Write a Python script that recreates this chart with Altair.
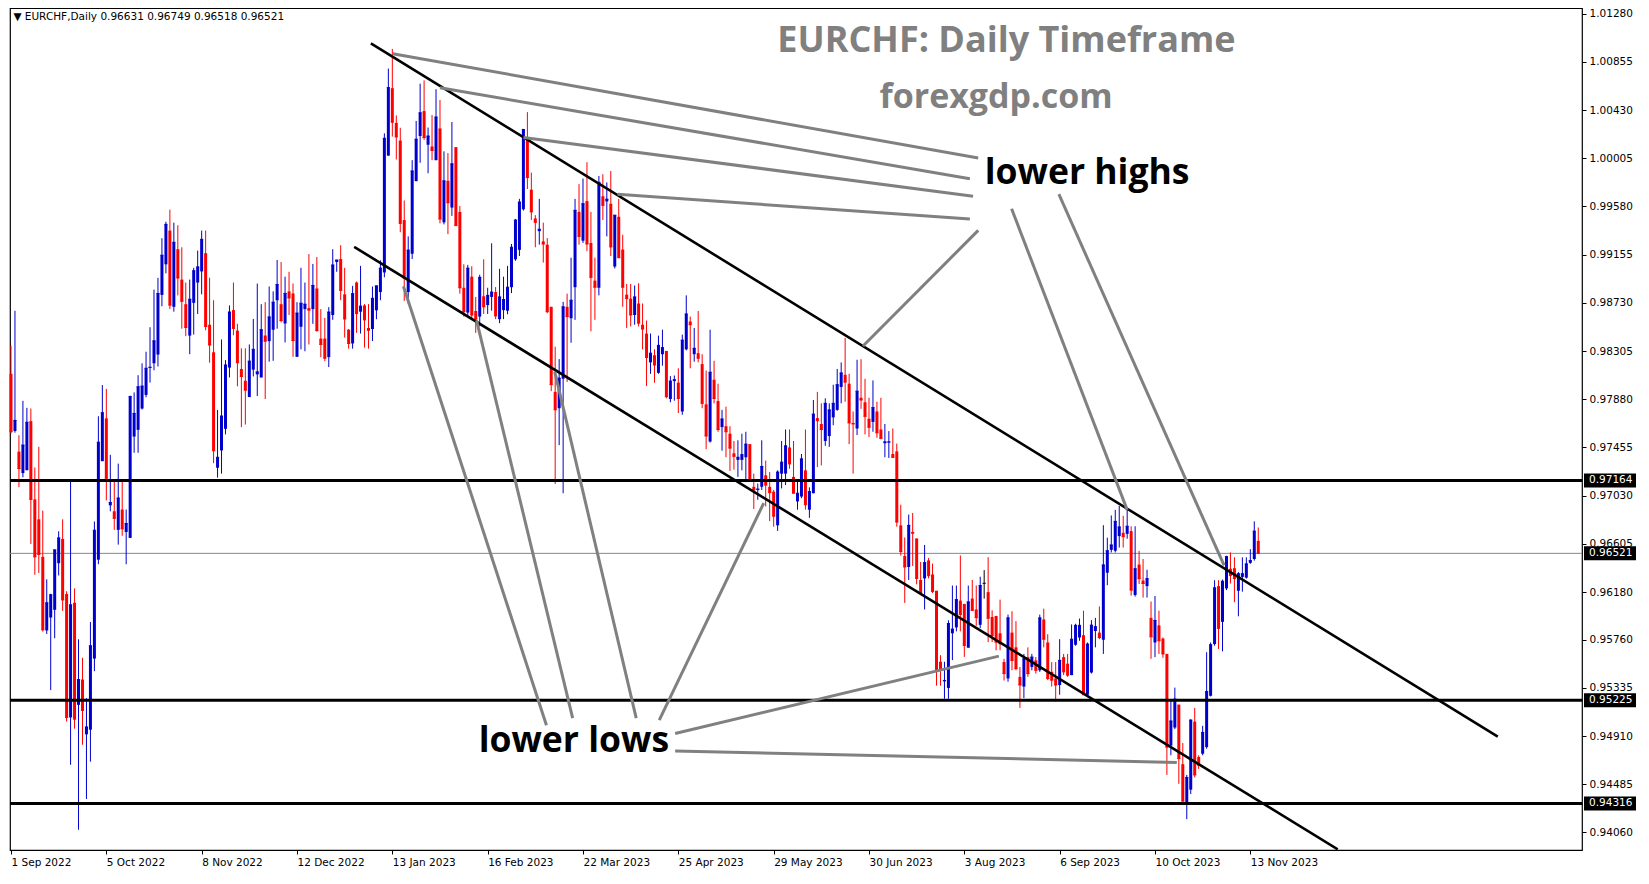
import altair as alt
import pandas as pd

# ---------------- data ----------------
OPEN = [0.98104,0.97600,0.97418,0.97229,0.97254,0.97687,0.96997,0.96821,0.96490,0.95841,
0.95955,0.96023,0.96434,0.96648,0.96162,0.95074,0.96085,0.95185,0.95408,0.94925,
0.94966,0.95593,0.96465,0.97334,0.97711,0.96944,0.96892,0.96728,0.96907,0.96709,
0.96657,0.97551,0.97610,0.97798,0.97918,0.98156,0.98197,0.98274,0.98800,0.99070,
0.99367,0.98695,0.99203,0.98935,0.98718,0.98441,0.98730,0.98909,0.99007,0.99168,
0.98537,0.98294,0.97276,0.97429,0.97619,0.98159,0.98666,0.98485,0.98147,0.98043,
0.97899,0.98141,0.98099,0.98072,0.98441,0.98392,0.98493,0.98753,0.98718,0.98548,
0.98831,0.98813,0.98254,0.98519,0.98675,0.98684,0.98675,0.98857,0.98415,0.98415,
0.98251,0.98623,0.99090,0.99116,0.98805,0.98493,0.98372,0.98909,0.98652,0.98707,
0.98508,0.98499,0.98664,0.98825,0.98998,1.00028,1.00623,1.00317,1.00161,0.99460,
0.98825,0.99163,0.99803,1.00201,1.00421,1.00124,1.00109,0.99988,1.00268,0.99440,
0.99806,0.99570,1.00103,0.99532,0.98863,0.98644,0.98961,0.98658,0.98609,0.98788,
0.98710,0.98782,0.98825,0.98586,0.98666,0.98661,0.98868,0.99114,0.99197,0.99555,
1.00181,0.99728,0.99474,0.99362,0.99272,0.99243,0.98695,0.97945,0.97801,0.98061,
0.98695,0.98594,0.98868,0.99532,0.99278,0.99627,0.99258,0.98926,0.98863,0.99670,
0.99624,0.99604,0.99050,0.99489,0.99200,0.98802,0.98767,0.98623,0.98724,0.98537,
0.98459,0.98205,0.98268,0.98113,0.98277,0.98306,0.97882,0.98040,0.98026,0.97772,
0.98320,0.98565,0.98277,0.98286,0.98190,0.97835,0.97507,0.98052,0.97864,0.97634,
0.97642,0.97576,0.97403,0.97345,0.97345,0.97368,0.97484,0.97108,0.97080,0.97108,
0.97209,0.97108,0.97065,0.96768,0.97224,0.97224,0.97455,0.97195,0.96979,0.97022,
0.97253,0.96906,0.97051,0.97714,0.97662,0.97512,0.97555,0.97720,0.97786,0.97988,
0.98095,0.98017,0.97671,0.97622,0.97893,0.97853,0.97708,0.97680,0.97772,0.97613,
0.97492,0.97498,0.97397,0.97420,0.96768,0.96497,0.96401,0.96710,0.96652,0.96286,
0.96300,0.96459,0.96335,0.96191,0.95565,0.95392,0.95334,0.95816,0.95868,0.96104,
0.96075,0.95689,0.96122,0.96026,0.95891,0.96257,0.96179,0.95960,0.95969,0.95816,
0.95563,0.95418,0.95822,0.95692,0.95432,0.95346,0.95606,0.95519,0.95577,0.95490,
0.95938,0.95735,0.95476,0.95418,0.95360,0.95606,0.95548,0.95447,0.95715,0.95779,
0.95799,0.95274,0.95470,0.95836,0.95822,0.95759,0.96350,0.96552,0.96544,0.96673,
0.96702,0.96693,0.96717,0.96154,0.96422,0.96281,0.96232,0.95952,0.95735,0.95886,
0.95770,0.95634,0.94826,0.94985,0.95187,0.94662,0.94307,0.94437,0.95037,0.94725,
0.94754,0.94812,0.95265,0.95721,0.96232,0.95917,0.96212,0.96385,0.96390,0.96191,
0.96313,0.96307,0.96437,0.96471,0.96631]

HIGH = [0.98351,0.98660,0.97563,0.97866,0.97804,0.97798,0.97278,0.97461,0.96898,0.96292,
0.96165,0.96552,0.96716,0.96821,0.96187,0.97161,0.96212,0.95763,0.95600,0.95244,
0.95915,0.96802,0.97730,0.98005,0.97971,0.97390,0.97155,0.97312,0.97155,0.96907,
0.97912,0.97940,0.98092,0.98197,0.98299,0.98515,0.98846,0.98950,0.99300,0.99445,
0.99552,0.99437,0.99414,0.99220,0.98909,0.98935,0.99039,0.99191,0.99367,0.99367,
0.98952,0.98753,0.97786,0.98407,0.98225,0.98707,0.98909,0.98545,0.98329,0.98329,
0.98363,0.98588,0.98900,0.98718,0.98736,0.98874,0.98831,0.99108,0.99090,0.98961,
0.99004,0.98900,0.98736,0.99039,0.98909,0.99160,0.99073,0.99134,0.98675,0.98597,
0.98692,0.99203,0.99108,0.99238,0.99039,0.98500,0.98880,0.98918,0.99056,0.98719,
0.98719,0.98874,0.98880,0.99105,1.00225,1.00796,1.00969,1.00383,1.00274,0.99633,
0.99316,0.99988,1.00334,1.00663,1.00692,1.00276,1.00386,1.00614,1.00519,1.00066,
1.00051,1.00325,1.00103,0.99584,0.99070,0.99065,0.99053,0.98782,0.98978,0.99114,
0.98863,0.99255,0.98869,0.99030,0.98961,0.99056,0.99249,0.99470,0.99647,1.00259,
1.00412,0.99878,0.99503,0.99647,0.99437,0.99301,0.98695,0.98343,0.98234,0.98739,
0.98811,0.99128,0.99647,0.99777,0.99826,0.99970,0.99532,0.99128,0.99849,0.99864,
0.99792,0.99893,0.99503,0.99647,0.99330,0.98897,0.98897,0.98883,0.98903,0.98724,
0.98574,0.98459,0.98320,0.98441,0.98493,0.98306,0.98084,0.98089,0.98153,0.98450,
0.98796,0.98609,0.98508,0.98658,0.98277,0.98133,0.98493,0.98219,0.98017,0.97786,
0.97815,0.97642,0.97512,0.97518,0.97576,0.97593,0.97484,0.97224,0.97137,0.97518,
0.97339,0.97238,0.97080,0.97253,0.97512,0.97613,0.97613,0.97512,0.97152,0.97397,
0.97613,0.97103,0.97873,0.97945,0.97844,0.97888,0.97844,0.98008,0.98147,0.98205,
0.98420,0.98104,0.97772,0.98228,0.98233,0.98060,0.97893,0.98046,0.97858,0.97893,
0.97662,0.97599,0.97622,0.97489,0.96950,0.96661,0.96863,0.96877,0.96652,0.96445,
0.96595,0.96480,0.96430,0.96191,0.95623,0.95565,0.95931,0.96237,0.96237,0.96502,
0.96075,0.96237,0.96286,0.96237,0.96315,0.96373,0.96488,0.96018,0.95969,0.96113,
0.95591,0.95981,0.96010,0.95923,0.95519,0.95634,0.95692,0.95634,0.95606,0.95981,
0.96033,0.95808,0.95562,0.95562,0.95764,0.95634,0.95634,0.95894,0.95900,0.95946,
0.96015,0.95735,0.95932,0.95952,0.96053,0.96769,0.96659,0.96855,0.96904,0.96939,
0.96852,0.96919,0.96760,0.96760,0.96543,0.96471,0.96376,0.96096,0.96145,0.96015,
0.95779,0.95634,0.95230,0.95337,0.95187,0.94849,0.94567,0.95057,0.95158,0.94740,
0.95000,0.95649,0.95735,0.96284,0.96284,0.96290,0.96500,0.96529,0.96486,0.96356,
0.96486,0.96486,0.96558,0.96803,0.96749]

LOW = [0.97578,0.97585,0.97105,0.97192,0.97254,0.96604,0.96332,0.96348,0.95831,0.95810,
0.95315,0.95772,0.96326,0.96014,0.95037,0.94656,0.94975,0.94084,0.94833,0.94355,
0.94684,0.95482,0.96425,0.97334,0.96988,0.96892,0.96728,0.96598,0.96676,0.96425,
0.96657,0.97408,0.97408,0.97789,0.97897,0.98027,0.98135,0.98169,0.98700,0.98990,
0.98675,0.98652,0.98796,0.98502,0.98436,0.98277,0.98450,0.98632,0.98805,0.98488,
0.98202,0.97316,0.97189,0.97224,0.97570,0.98072,0.98444,0.97994,0.97634,0.97657,
0.97899,0.98081,0.97908,0.98072,0.97882,0.98211,0.98219,0.98502,0.98557,0.98381,
0.98623,0.98254,0.98254,0.98320,0.98303,0.98363,0.98545,0.98476,0.98251,0.98216,
0.98164,0.98580,0.99004,0.98753,0.98424,0.98326,0.98326,0.98465,0.98459,0.98335,
0.98326,0.98393,0.98586,0.98753,0.98955,1.00028,1.00196,0.99994,0.99353,0.98747,
0.98724,0.99117,0.99803,0.99965,1.00167,0.99873,0.99988,0.99988,0.99431,0.99422,
0.99336,0.99497,0.99411,0.98811,0.98609,0.98615,0.98594,0.98465,0.98522,0.98632,
0.98632,0.98661,0.98586,0.98551,0.98586,0.98629,0.98816,0.99100,0.99143,0.99544,
0.99734,0.99460,0.99220,0.99243,0.99085,0.98638,0.97951,0.97132,0.97475,0.97051,
0.98032,0.98378,0.98580,0.99243,0.99258,0.99186,0.98479,0.98580,0.98796,0.99460,
0.99316,0.99143,0.99033,0.99128,0.98695,0.98508,0.98522,0.98537,0.98522,0.98320,
0.97997,0.98104,0.98026,0.98104,0.98176,0.97888,0.97853,0.97867,0.97758,0.97743,
0.98311,0.98153,0.98211,0.98205,0.97801,0.97440,0.97498,0.97844,0.97593,0.97426,
0.97368,0.97247,0.97259,0.97195,0.97253,0.97160,0.97160,0.96912,0.96993,0.97080,
0.96935,0.96805,0.96756,0.96719,0.97094,0.97123,0.97267,0.97051,0.96906,0.97007,
0.96906,0.96834,0.97051,0.97282,0.97296,0.97469,0.97460,0.97651,0.97778,0.97844,
0.97858,0.97484,0.97224,0.97564,0.97795,0.97570,0.97547,0.97593,0.97541,0.97527,
0.97368,0.97362,0.97362,0.96756,0.96502,0.96084,0.96286,0.96410,0.96248,0.96162,
0.96026,0.96300,0.96171,0.95354,0.95354,0.95239,0.95239,0.95579,0.95833,0.95833,
0.95608,0.95689,0.96012,0.95882,0.95862,0.96122,0.95738,0.95738,0.95666,0.95666,
0.95400,0.95389,0.95490,0.95490,0.95158,0.95245,0.95432,0.95490,0.95461,0.95476,
0.95692,0.95403,0.95346,0.95216,0.95274,0.95447,0.95432,0.95447,0.95706,0.95750,
0.95274,0.95259,0.95461,0.95692,0.95764,0.95634,0.96240,0.96529,0.96529,0.96572,
0.96572,0.96650,0.96148,0.96140,0.96250,0.96131,0.96131,0.95591,0.95606,0.95634,
0.95600,0.94567,0.94740,0.94971,0.94489,0.94330,0.94177,0.94399,0.94544,0.94620,
0.94740,0.94798,0.95259,0.95706,0.95678,0.95657,0.96197,0.96255,0.96090,0.95966,
0.96183,0.96298,0.96428,0.96457,0.96518]

CLOSE = [0.97594,0.97693,0.97269,0.97476,0.97677,0.96997,0.96490,0.96512,0.95847,0.96085,
0.96156,0.96552,0.96657,0.96110,0.95074,0.96067,0.95059,0.95408,0.95136,0.94990,
0.95706,0.96725,0.97501,0.97761,0.97183,0.96969,0.96830,0.97009,0.96737,0.96784,
0.97903,0.97755,0.97990,0.97996,0.98153,0.98162,0.98395,0.98812,0.99150,0.99422,
0.98710,0.99264,0.98949,0.98744,0.98513,0.98762,0.99013,0.99047,0.99290,0.98522,
0.98358,0.97426,0.97368,0.97732,0.98182,0.98649,0.98505,0.98202,0.98081,0.97960,
0.98216,0.98320,0.98121,0.98493,0.98392,0.98606,0.98736,0.98891,0.98574,0.98813,
0.98773,0.98398,0.98640,0.98727,0.98718,0.98666,0.98883,0.98485,0.98363,0.98242,
0.98649,0.99064,0.99108,0.98840,0.98588,0.98372,0.98811,0.98635,0.98701,0.98580,
0.98488,0.98770,0.98880,0.99036,1.00181,1.00628,1.00323,1.00193,0.99431,0.98949,
0.99195,0.99893,1.00173,1.00406,1.00187,1.00201,1.00074,1.00369,0.99469,0.99806,
0.99613,0.99956,0.99411,0.98863,0.98652,0.99036,0.98623,0.98586,0.98955,0.98695,
0.98796,0.98825,0.98615,0.98782,0.98759,0.98868,0.99220,0.99460,0.99619,1.00259,
0.99835,0.99532,0.99440,0.99379,0.99249,0.98652,0.98009,0.97787,0.98066,0.98695,
0.98609,0.98753,0.99546,0.99316,0.99604,0.99249,0.98955,0.98868,0.99792,0.99590,
0.99644,0.99223,0.99503,0.99128,0.98868,0.98767,0.98623,0.98782,0.98551,0.98499,
0.98248,0.98286,0.98182,0.98355,0.98335,0.97902,0.98040,0.98052,0.97887,0.98401,
0.98632,0.98537,0.98329,0.98242,0.97844,0.97556,0.98118,0.97887,0.97613,0.97706,
0.97593,0.97449,0.97377,0.97368,0.97391,0.97484,0.97166,0.97080,0.97088,0.97287,
0.97123,0.97057,0.96849,0.97238,0.97325,0.97469,0.97310,0.97051,0.97051,0.97354,
0.96950,0.97065,0.97749,0.97691,0.97613,0.97844,0.97786,0.97844,0.98008,0.98112,
0.98031,0.97671,0.97662,0.97951,0.97873,0.97729,0.97633,0.97806,0.97584,0.97535,
0.97504,0.97504,0.97368,0.96797,0.96537,0.96401,0.96768,0.96699,0.96300,0.96171,
0.96439,0.96324,0.96185,0.95493,0.95499,0.95400,0.95902,0.95853,0.96113,0.95983,
0.95709,0.96093,0.96018,0.95954,0.96237,0.96257,0.95949,0.95796,0.95738,0.95724,
0.95461,0.95952,0.95577,0.95505,0.95360,0.95591,0.95461,0.95606,0.95490,0.95952,
0.95764,0.95418,0.95403,0.95360,0.95577,0.95476,0.95447,0.95764,0.95886,0.95886,
0.95274,0.95721,0.95888,0.95874,0.95779,0.96419,0.96544,0.96595,0.96803,0.96754,
0.96668,0.96760,0.96197,0.96385,0.96298,0.96255,0.96298,0.95785,0.95929,0.95750,
0.95634,0.94812,0.95043,0.95236,0.94711,0.94336,0.94544,0.95051,0.94567,0.94653,
0.94942,0.95303,0.95715,0.96217,0.95860,0.96275,0.96492,0.96327,0.96298,0.96341,
0.96341,0.96428,0.96457,0.96717,0.96521]

X_TICK_LABELS = ["1 Sep 2022", "5 Oct 2022", "8 Nov 2022", "12 Dec 2022", "13 Jan 2023",
                 "16 Feb 2023", "22 Mar 2023", "25 Apr 2023", "29 May 2023", "30 Jun 2023",
                 "3 Aug 2023", "6 Sep 2023", "10 Oct 2023", "13 Nov 2023"]
X_TICK_STEP = 24
Y_TICKS = [1.01280, 1.00855, 1.00430, 1.00005, 0.99580, 0.99155, 0.98730, 0.98305, 0.97880,
           0.97455, 0.97030, 0.96605, 0.96180, 0.95760, 0.95335, 0.94910, 0.94485, 0.94060]
LEVELS = [0.97164, 0.95225, 0.94316]
LAST_PRICE = 0.96521
MARKED = [0.97164, 0.96521, 0.95225, 0.94316]

# channel lines (bar index, price)
CH_X1 = [90.6, 86.4]
CH_Y1 = [1.01018, 0.99223]
CH_X2 = [374.3, 334.0]
CH_Y2 = [0.94904, 0.93911]

# gray annotation lines
G_X1 = [96.1, 108.0, 129.0, 152.7, 214.5, 251.9, 263.8, 98.8, 117.2, 136.9, 189.5, 248.7, 293.5]
G_Y1 = [1.00927, 1.00626, 1.00189, 0.99688, 0.98349, 0.99560, 0.99688, 0.98877, 0.98576, 0.98121, 0.96964, 0.95615, 0.94677]
G_X2 = [243.5, 241.4, 242.2, 241.4, 243.5, 281.0, 305.4, 134.8, 141.4, 157.4, 163.2, 167.2, 167.2]
G_Y2 = [1.00007, 0.99825, 0.99670, 0.99469, 0.99369, 0.96904, 0.96414, 0.95005, 0.95068, 0.95068, 0.95050, 0.94932, 0.94777]

TITLE = "EURCHF: Daily Timeframe"
SITE = "forexgdp.com"
HEADER = "\u25BC  EURCHF,Daily  0.96631 0.96749 0.96518 0.96521"

# ---------------- layout ----------------
W, H = 1572, 842
X_DOM = [-0.25, 395.5]
Y_DOM = [0.93905, 1.01330]
BLUE, RED = "#0000CD", "#FF0000"

n = len(CLOSE)
df = pd.DataFrame({"i": list(range(n)), "o": OPEN[:n], "h": HIGH[:n], "l": LOW[:n], "c": CLOSE})
df["col"] = [BLUE if c > o else (RED if c < o else "#000000") for o, c in zip(df["o"], df["c"])]

xs = alt.Scale(domain=X_DOM, nice=False, zero=False, padding=0)
ys = alt.Scale(domain=Y_DOM, nice=False, zero=False, padding=0)

lab_arr = "[" + ",".join("'%s'" % s for s in X_TICK_LABELS) + "]"
x_axis = alt.Axis(values=[k * X_TICK_STEP for k in range(len(X_TICK_LABELS))],
                  labelExpr=lab_arr + "[round(datum.value/%d)]" % X_TICK_STEP,
                  title=None, grid=False, labelAlign="left", labelFont="DejaVu Sans",
                  labelFontSize=10.5, labelColor="#000000", tickColor="#000000", tickSize=4,
                  domain=False, labelPadding=3, labelFlush=False)
y_axis = alt.Axis(values=Y_TICKS, format=".5f", orient="right", title=None, grid=False,
                  labelFont="DejaVu Sans", labelFontSize=10.5, labelColor="#000000",
                  tickColor="#000000", tickSize=4, domain=False, labelPadding=3)

base = alt.Chart(df)
X = alt.X("i:Q", scale=xs, axis=x_axis)
wicks = base.mark_rule(strokeWidth=1).encode(
    x=X, y=alt.Y("l:Q", scale=ys, axis=y_axis), y2="h:Q",
    color=alt.Color("col:N", scale=None))
bodies = base.mark_bar(size=3).encode(
    x="i:Q", y="o:Q", y2="c:Q", color=alt.Color("col:N", scale=None))
ticks = base.transform_calculate(xa="datum.i-0.4", xb="datum.i+0.4").mark_rule(strokeWidth=1).encode(
    x="xa:Q", x2="xb:Q", y="c:Q", color=alt.Color("col:N", scale=None))

lv = pd.DataFrame({"p": LEVELS})
levels = alt.Chart(lv).mark_rule(strokeWidth=3, color="#000000").encode(y="p:Q")
last = alt.Chart(pd.DataFrame({"p": [LAST_PRICE]})).mark_rule(strokeWidth=1, color="#7a8a99").encode(y="p:Q")

chdf = pd.DataFrame({"x1": CH_X1, "y1": CH_Y1, "x2": CH_X2, "y2": CH_Y2})
channel = alt.Chart(chdf).mark_rule(strokeWidth=2.6, color="#000000", clip=True).encode(
    x="x1:Q", y="y1:Q", x2="x2:Q", y2="y2:Q")
gdf = pd.DataFrame({"x1": G_X1, "y1": G_Y1, "x2": G_X2, "y2": G_Y2})
grays = alt.Chart(gdf).mark_rule(strokeWidth=3, color="#808080").encode(
    x="x1:Q", y="y1:Q", x2="x2:Q", y2="y2:Q")

tdf1 = pd.DataFrame({"t": [TITLE, SITE], "x": [250.6, 248.0], "y": [1.01036, 1.00535], "s": [36, 34]})
titles = alt.Chart(tdf1).mark_text(font="Open Sans", fontWeight="bold", color="#808080",
                                   baseline="middle", align="center").encode(
    x="x:Q", y="y:Q", text="t:N", size=alt.Size("s:Q", scale=None))
tdf2 = pd.DataFrame({"t": ["lower highs", "lower lows"], "x": [270.9, 141.7], "y": [0.99879, 0.94868]})
notes = alt.Chart(tdf2).mark_text(font="Open Sans", fontWeight="bold", fontSize=35.5, color="#000000",
                                  baseline="middle", align="center").encode(
    x="x:Q", y="y:Q", text="t:N")

hdr = alt.Chart(pd.DataFrame({"t": [HEADER], "x": [0.6], "y": [1.01250]})).mark_text(
    font="DejaVu Sans", fontSize=10.5, align="left", baseline="middle", color="#000000").encode(
    x="x:Q", y="y:Q", text="t:N")

# price-tag boxes on the right axis
mk = pd.DataFrame({"p": MARKED})
half = 7.0 * (Y_DOM[1] - Y_DOM[0]) / H
boxes = alt.Chart(mk).transform_calculate(
    p1="datum.p-%f" % half, p2="datum.p+%f" % half).mark_rect(color="#000000", clip=False).encode(
    x=alt.value(W + 2), x2=alt.value(W + 54), y="p1:Q", y2="p2:Q")
boxtxt = alt.Chart(mk).mark_text(font="DejaVu Sans", fontSize=10.5, align="left",
                                 baseline="middle", color="#FFFFFF", clip=False).encode(
    x=alt.value(W + 7), y="p:Q", text=alt.Text("p:Q", format=".5f"))

chart = alt.layer(last, wicks, bodies, ticks, levels, channel, grays, titles, notes, hdr, boxes, boxtxt).properties(
    width=W, height=H, background="#FFFFFF",
    padding={"left": 0, "top": 0, "right": 2, "bottom": 2}
).configure_view(stroke="#000000", strokeWidth=1.2)

chart.save("out.html", embed_options={"renderer": "svg", "actions": False})
